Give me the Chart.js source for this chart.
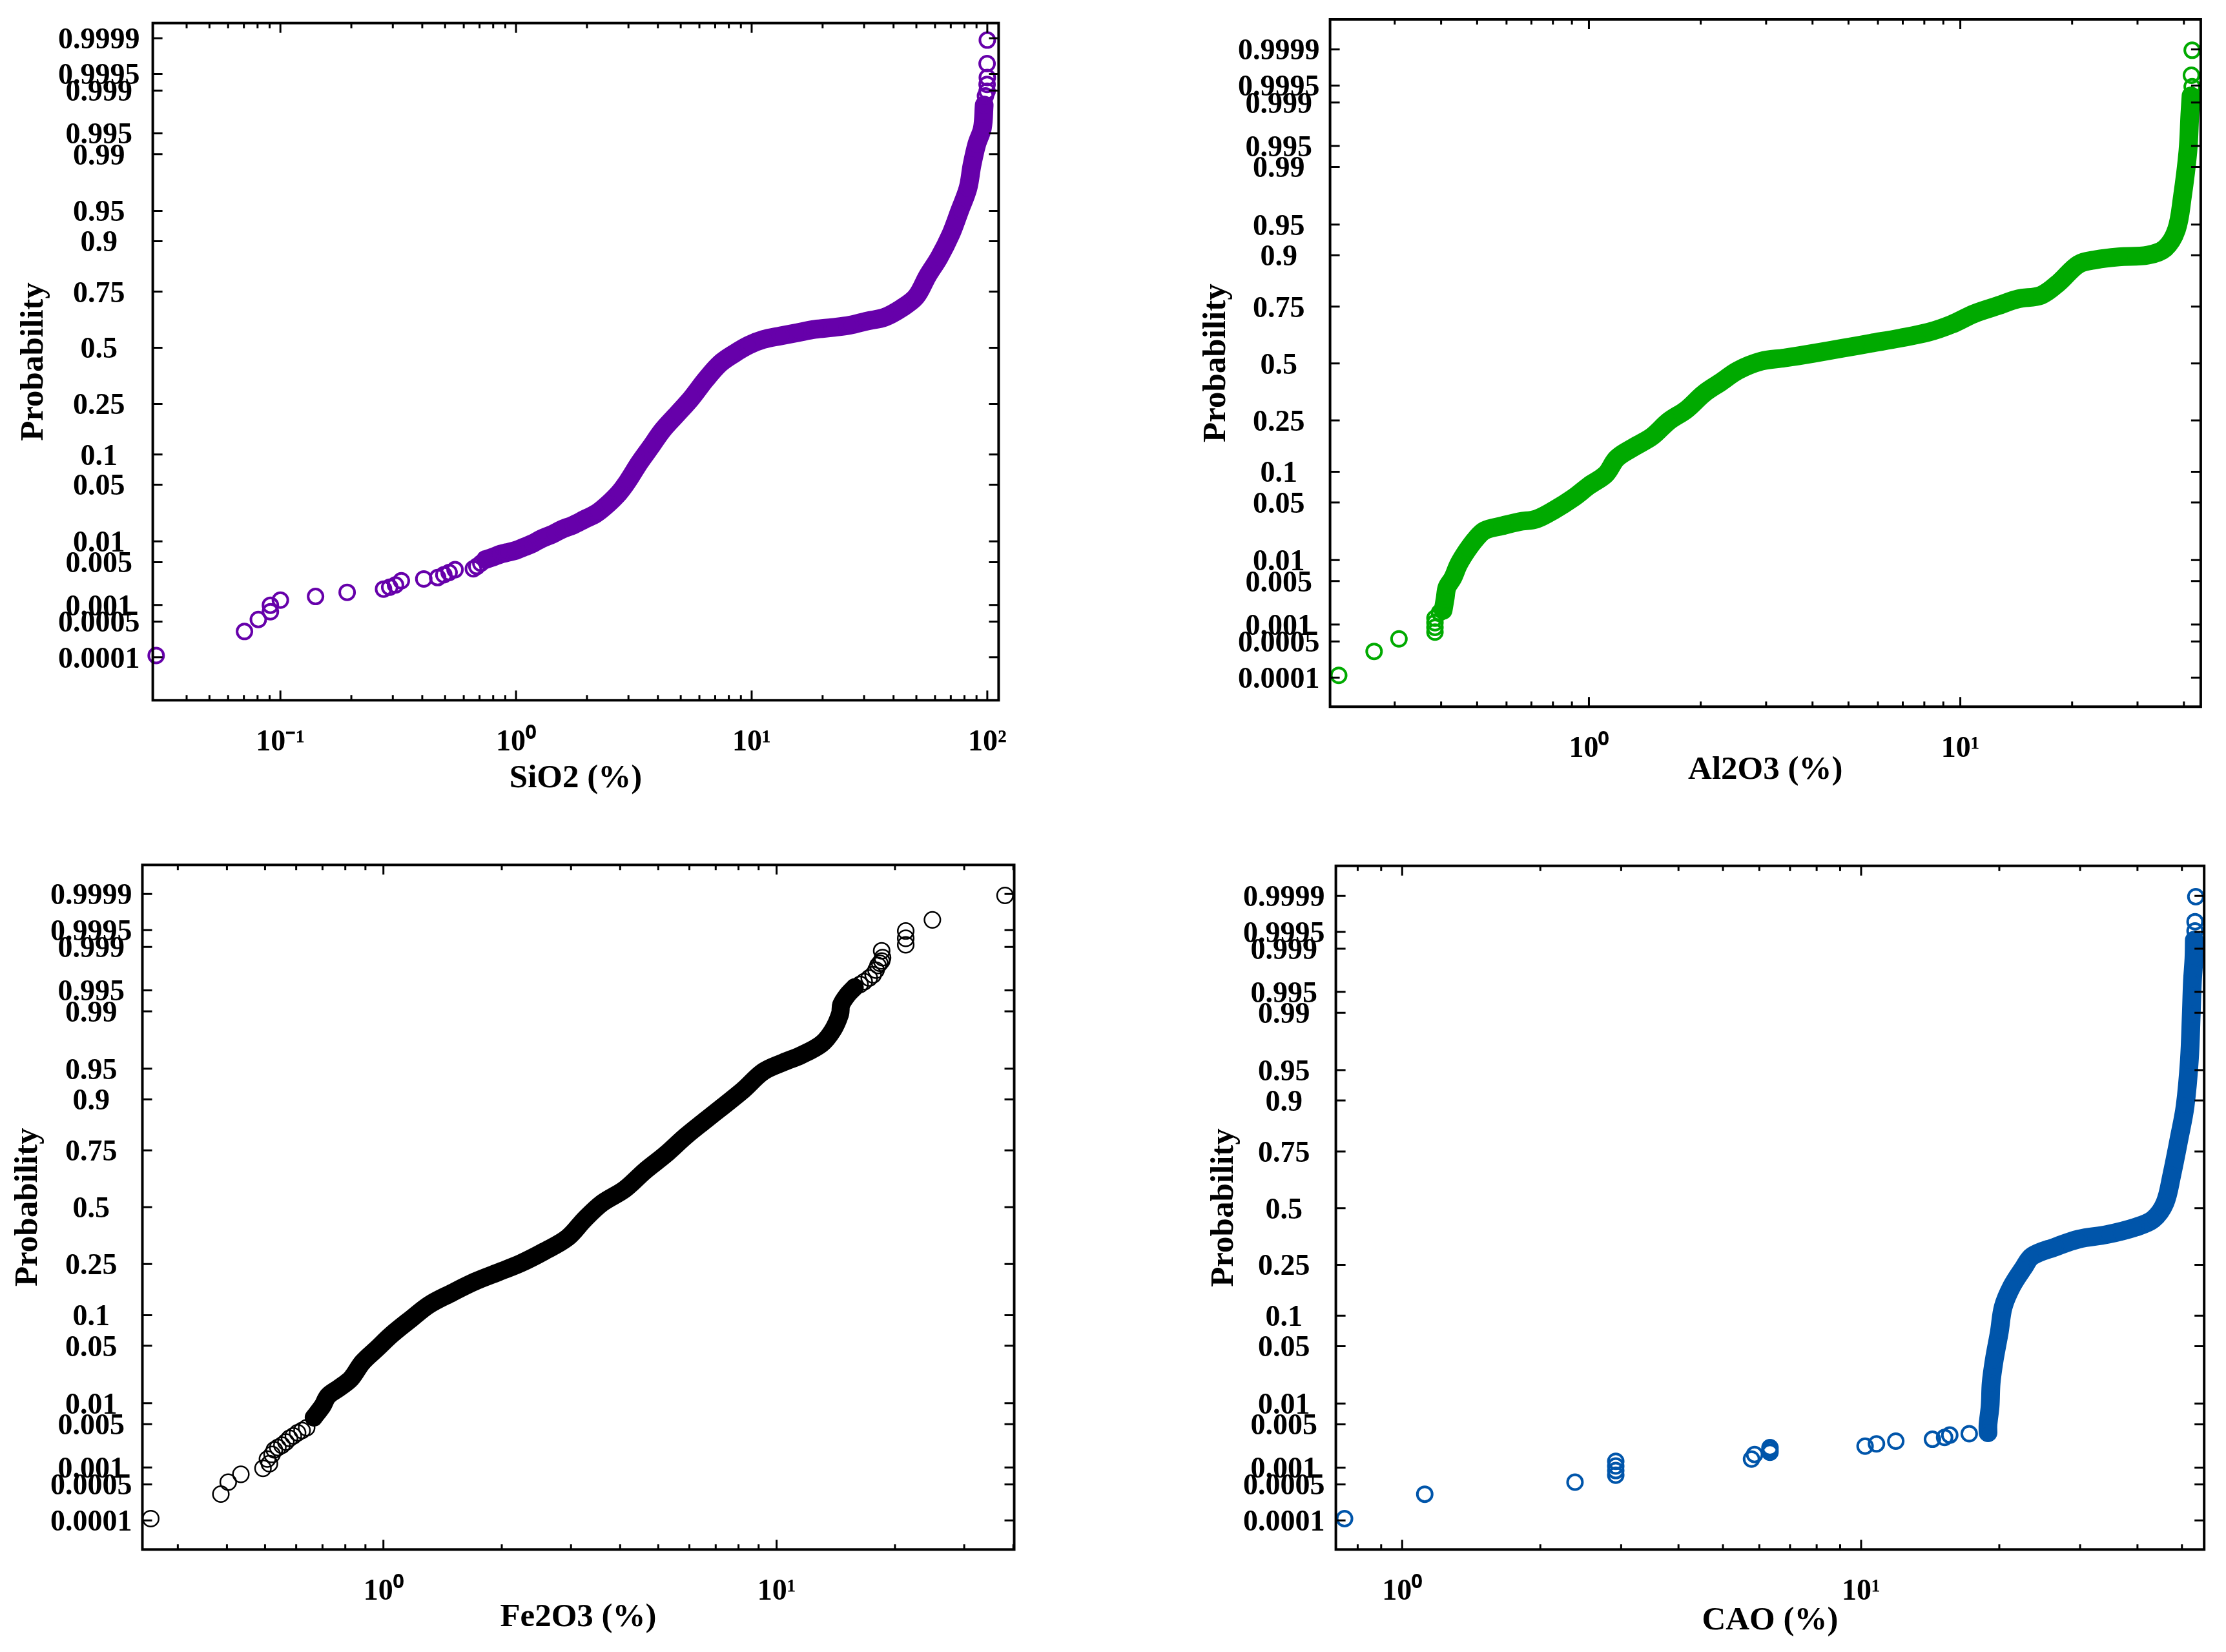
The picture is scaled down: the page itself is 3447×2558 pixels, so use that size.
<!DOCTYPE html>
<html><head><meta charset="utf-8">
<style>html,body{margin:0;padding:0;background:#fff}canvas{position:absolute;left:0;top:0}</style>
<script src="https://cdn.jsdelivr.net/npm/chart.js@4"></script>
</head><body>
<canvas id="c0"></canvas><canvas id="c1"></canvas><canvas id="c2"></canvas><canvas id="c3"></canvas>
<script>
// Probability axis ticks (normal probability paper)
const probTicks=[0.9999,0.9995,0.999,0.995,0.99,0.95,0.9,0.75,0.5,0.25,0.1,0.05,0.01,0.005,0.001,0.0005,0.0001];
const probLabels=["0.9999","0.9995","0.999","0.995","0.99","0.95","0.9","0.75","0.5","0.25","0.1","0.05","0.01","0.005","0.001","0.0005","0.0001"];
const decadeLabels={"-1":"10⁻¹","0":"10⁰","1":"10¹","2":"10²"};

// Values: x in %, y as standard normal quantile of the plotted probability
const sio2X=[0.0297,0.0704,0.0806,0.0907,0.0907,0.100,0.141,0.192,0.274,0.291,0.308,0.326,0.406,0.465,0.494,0.520,0.551,0.659,0.682,0.709,0.742,0.794,0.863,0.914,1.00,1.08,1.18,1.28,1.43,1.56,1.75,1.95,2.19,2.45,2.74,2.98,3.34,3.74,4.18,4.82,5.55,6.38,7.35,8.46,9.74,11.2,13.3,15.7,18.6,22.0,26.1,30.9,36.6,43.3,49.9,55.8,62.5,70.0,76.2,82.8,86.1,90.2,95.3,97.0,98.2,99.8,99.8,100,99.8,100];
const sio2Q=[-3.697,-3.409,-3.265,-3.171,-3.093,-3.032,-2.988,-2.938,-2.899,-2.877,-2.849,-2.799,-2.777,-2.761,-2.727,-2.700,-2.666,-2.655,-2.627,-2.589,-2.544,-2.517,-2.478,-2.461,-2.433,-2.395,-2.350,-2.295,-2.239,-2.184,-2.129,-2.062,-1.990,-1.879,-1.741,-1.602,-1.380,-1.186,-0.992,-0.798,-0.604,-0.382,-0.188,-0.067,0.033,0.100,0.144,0.183,0.222,0.244,0.272,0.322,0.366,0.477,0.615,0.865,1.086,1.364,1.641,1.918,2.195,2.445,2.639,2.916,3.027,3.082,3.165,3.248,3.415,3.697];

const al2o3X=[0.212,0.264,0.308,0.385,0.385,0.385,0.385,0.396,0.405,0.410,0.415,0.430,0.446,0.470,0.496,0.524,0.583,0.649,0.722,0.804,0.912,1.00,1.11,1.19,1.33,1.48,1.64,1.83,2.04,2.27,2.52,2.91,3.36,4.02,4.81,5.74,6.87,8.22,9.48,10.9,12.6,14.3,16.5,18.4,20.8,23.2,26.7,32.0,35.6,38.2,39.6,41.0,41.5,41.8,42.1,41.9,42.1];
const al2o3Q=[-3.692,-3.408,-3.260,-3.179,-3.124,-3.069,-3.015,-2.949,-2.922,-2.785,-2.649,-2.540,-2.376,-2.212,-2.075,-1.977,-1.922,-1.873,-1.841,-1.737,-1.584,-1.447,-1.311,-1.120,-0.983,-0.863,-0.683,-0.546,-0.355,-0.218,-0.082,0.027,0.066,0.120,0.180,0.240,0.300,0.371,0.464,0.590,0.683,0.765,0.808,0.956,1.174,1.229,1.262,1.283,1.365,1.584,1.966,2.512,2.949,3.168,3.277,3.413,3.708];

const fe2o3X=[0.256,0.386,0.403,0.434,0.494,0.513,0.507,0.521,0.528,0.539,0.552,0.565,0.577,0.590,0.605,0.621,0.638,0.665,0.700,0.723,0.774,0.828,0.885,0.964,1.05,1.18,1.31,1.49,1.71,1.96,2.24,2.56,2.94,3.25,3.60,4.11,4.63,5.21,5.87,6.60,7.31,8.22,9.25,10.4,11.5,13.0,13.9,14.5,14.6,15.1,15.8,16.3,16.7,17.2,17.6,17.9,18.1,18.3,18.5,18.6,18.5,21.3,21.3,21.3,24.9,38.1];
const fe2o3Q=[-3.697,-3.406,-3.264,-3.171,-3.100,-3.045,-2.990,-2.935,-2.881,-2.853,-2.826,-2.788,-2.744,-2.716,-2.678,-2.651,-2.618,-2.497,-2.360,-2.240,-2.141,-2.032,-1.840,-1.676,-1.511,-1.320,-1.156,-1.019,-0.882,-0.772,-0.663,-0.526,-0.361,-0.142,0.049,0.214,0.433,0.624,0.843,1.035,1.199,1.391,1.610,1.720,1.802,1.939,2.103,2.295,2.404,2.514,2.612,2.645,2.678,2.722,2.760,2.815,2.870,2.897,2.924,2.963,3.045,3.116,3.193,3.280,3.412,3.702];

const caoX=[0.749,1.12,2.38,2.92,2.92,2.92,2.92,5.77,5.86,6.33,6.33,6.33,10.2,10.8,11.9,14.3,15.2,15.6,17.2,18.9,18.9,19.1,19.2,19.5,20.0,20.4,21.3,22.6,23.6,26.5,29.8,34.4,39.7,43.3,45.9,47.5,49.3,50.8,51.9,52.4,52.7,53.1,53.2,53.4,53.4,53.6];
const caoQ=[-3.698,-3.407,-3.264,-3.181,-3.126,-3.071,-3.016,-2.989,-2.934,-2.907,-2.879,-2.852,-2.835,-2.808,-2.775,-2.753,-2.731,-2.703,-2.687,-2.676,-2.577,-2.357,-2.082,-1.808,-1.478,-1.176,-0.929,-0.709,-0.571,-0.462,-0.368,-0.313,-0.225,-0.132,0.060,0.390,0.830,1.214,1.764,2.313,2.698,2.973,3.192,3.302,3.412,3.709];

// Acklam's inverse normal CDF, used only to place probability ticks on the axis
function probit(p){
  const a=[-39.69683028665376,220.9460984245205,-275.9285104469687,138.3577518672690,-30.66479806614716,2.506628277459239];
  const b=[-54.47609879822406,161.5858368580409,-155.6989798598866,66.80131188771972,-13.28068155288572];
  const c=[-0.007784894002430293,-0.3223964580411365,-2.400758277161838,-2.549732539343734,4.374664141464968,2.938163982698783];
  const d=[0.007784695709041462,0.3224671290700398,2.445134137142996,3.754408661907416];
  const lo=0.02425;let q,r;
  if(p<lo){q=Math.sqrt(-2*Math.log(p));return(((((c[0]*q+c[1])*q+c[2])*q+c[3])*q+c[4])*q+c[5])/((((d[0]*q+d[1])*q+d[2])*q+d[3])*q+1);}
  if(p>1-lo){q=Math.sqrt(-2*Math.log(1-p));return-(((((c[0]*q+c[1])*q+c[2])*q+c[3])*q+c[4])*q+c[5])/((((d[0]*q+d[1])*q+d[2])*q+d[3])*q+1);}
  q=p-0.5;r=q*q;return(((((a[0]*r+a[1])*r+a[2])*r+a[3])*r+a[4])*r+a[5])*q/(((((b[0]*r+b[1])*r+b[2])*r+b[3])*r+b[4])*r+1);
}

const W=3447,H=2558,FONT='"Liberation Serif"';
const panels=[
 {id:'c0',xs:sio2X,qs:sio2Q,band:[20,64],color:'#6600AA',title:'SiO2 (%)',frame:[236.6,1546.4,35.7,1084.3],xr:[0.02874,111.7],yr:[-4.235,3.902],yc:52,xt:122,tp:12,dx:0,ring:[11.5,4],bw:29},
 {id:'c1',xs:al2o3X,qs:al2o3Q,band:[8,54],color:'#00AA00',title:'Al2O3 (%)',frame:[2059.6,3407.9,30,1094.3],xr:[0.2009,44.4],yr:[-4.063,4.074],yc:1883,xt:99,tp:8,dx:0,ring:[11.5,4],bw:29},
 {id:'c2',xs:fe2o3X,qs:fe2o3Q,band:[17,51],color:'#000000',title:'Fe2O3 (%)',frame:[220.5,1570.5,1339.3,2399.3],xr:[0.2438,40.2],yr:[-4.064,4.064],yc:43,xt:106,tp:8,dx:0,ring:[12.3,2.5],bw:28},
 {id:'c3',xs:caoX,qs:caoQ,band:[19,43],color:'#0055AA',title:'CAO (%)',frame:[2068.6,3413.2,1340.7,2399.3],xr:[0.717,55.9],yr:[-4.066,4.077],yc:1895,xt:111,tp:9,dx:-22,ring:[11.5,4],bw:29}
];

const inwardTicks={id:'inwardTicks',afterDatasetsDraw(chart){
  const {ctx,chartArea:a,scales:{x,y}}=chart;
  ctx.save();ctx.strokeStyle='#000';ctx.lineWidth=3;ctx.beginPath();
  y.ticks.forEach(t=>{const p=y.getPixelForValue(t.value);ctx.moveTo(a.left,p);ctx.lineTo(a.left+15,p);ctx.moveTo(a.right,p);ctx.lineTo(a.right-15,p);});
  x.ticks.forEach(t=>{const p=x.getPixelForValue(t.value);const e=Math.floor(Math.log10(t.value)+1e-9);const len=Math.abs(t.value/Math.pow(10,e)-1)<1e-6?15:8;
    ctx.moveTo(p,a.bottom);ctx.lineTo(p,a.bottom-len);ctx.moveTo(p,a.top);ctx.lineTo(p,a.top+len);});
  ctx.stroke();ctx.lineWidth=4;ctx.strokeRect(a.left,a.top,a.right-a.left,a.bottom-a.top);ctx.restore();
}};
function noOverhang(s){s.paddingTop=0;s.paddingBottom=0;s.paddingLeft=0;s.paddingRight=0;}

panels.forEach(P=>{
  const [fl,fr,ft,fb]=P.frame;
  const pts=P.xs.map((v,i)=>({x:v,y:P.qs[i]}));
  const axisLeft=P.yc-30, xH=P.xt+30;
  const cv=document.getElementById(P.id);cv.width=W;cv.height=H;cv.style.width=W+'px';cv.style.height=H+'px';
  new Chart(cv,{type:'scatter',plugins:[inwardTicks],
    data:{datasets:[
      {data:pts,showLine:false,pointStyle:'circle',pointRadius:P.ring[0],pointBorderWidth:P.ring[1],pointBorderColor:P.color,pointBackgroundColor:'rgba(0,0,0,0)',clip:false},
      {data:pts.slice(P.band[0],P.band[1]),showLine:true,pointRadius:0,borderColor:P.color,borderWidth:P.bw,borderCapStyle:'round',borderJoinStyle:'round',tension:0.35,clip:false}
    ]},
    options:{responsive:false,animation:false,devicePixelRatio:1,
      layout:{padding:{left:axisLeft,right:W-fr,top:ft,bottom:H-fb-xH}},
      plugins:{legend:{display:false},tooltip:{enabled:false},title:{display:false}},
      scales:{
        x:{type:'logarithmic',bounds:'data',min:P.xr[0],max:P.xr[1],
          grid:{display:false},border:{display:false},
          title:{display:true,text:P.title,color:'#000',padding:0,font:{family:FONT,weight:'bold',size:51}},
          afterFit(s){s.height=xH;noOverhang(s);},
          afterUpdate(s){ if(P.dx&&!s._shifted){s._shifted=true;const d=s._drawTitle;s._drawTitle=function(){const c=this.ctx;c.save();c.translate(P.dx,0);d.call(this);c.restore();};} },
          afterBuildTicks(s){s.ticks=s.ticks.filter(t=>{const e=Math.floor(Math.log10(t.value)+1e-9);const m=t.value/Math.pow(10,e);return Math.abs(m-Math.round(m))<1e-6&&t.value>=s.min&&t.value<=s.max;});},
          ticks:{autoSkip:false,maxRotation:0,minRotation:0,padding:30,color:'#000',font:{family:FONT,weight:'bold',size:46},
            callback(v){const l=Math.log10(v);const r=Math.round(l);return Math.abs(l-r)<1e-6?decadeLabels[String(r)]:'';}}
        },
        y:{type:'linear',min:P.yr[0],max:P.yr[1],
          grid:{display:false},border:{display:false},
          title:{display:true,text:'Probability',color:'#000',padding:0,font:{family:FONT,weight:'bold',size:51}},
          afterFit(s){s.width=fl-axisLeft;noOverhang(s);},
          afterBuildTicks(s){s.ticks=probTicks.map(p=>({value:probit(p)}));},
          ticks:{autoSkip:false,crossAlign:'center',padding:P.tp,labelOffset:4,color:'#000',font:{family:FONT,weight:'bold',size:46},
            callback(v,i){return probLabels[i];}}
        }
      }
    }
  });
});
</script>
</body></html>
